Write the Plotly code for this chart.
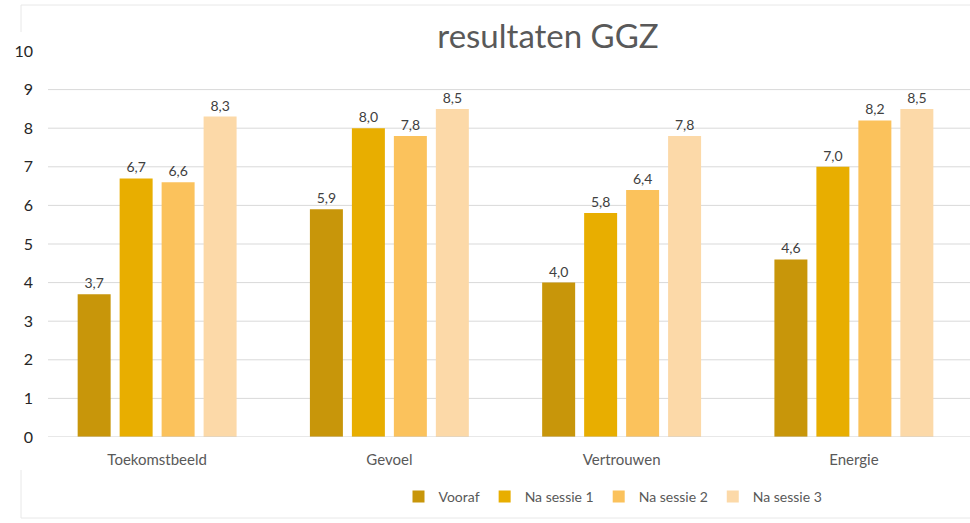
import plotly.graph_objects as go

categories = ["Toekomstbeeld", "Gevoel", "Vertrouwen", "Energie"]
series_names = ["Vooraf", "Na sessie 1", "Na sessie 2", "Na sessie 3"]
vooraf = [3.7, 5.9, 4.0, 4.6]
na_sessie_1 = [6.7, 8.0, 5.8, 7.0]
na_sessie_2 = [6.6, 7.8, 6.4, 8.2]
na_sessie_3 = [8.3, 8.5, 7.8, 8.5]
y_ticks = [0, 1, 2, 3, 4, 5, 6, 7, 8, 9, 10]
grid_values = [1, 2, 3, 4, 5, 6, 7, 8, 9]

colors = ["#C8960A", "#E8AE00", "#FBC25C", "#FCD9A8"]
all_series = [vooraf, na_sessie_1, na_sessie_2, na_sessie_3]

W, H = 970, 523
L, R, T, B = 41, 0, 51, 86
pw = W - L - R
ph = H - T - B

def px_x(px):
    return (px - L) / pw

def px_y(py):
    return (H - B - py) / ph

fig = go.Figure()
for name, vals, col in zip(series_names, all_series, colors):
    fig.add_trace(go.Bar(
        name=name, x=categories, y=vals, marker=dict(color=col, line=dict(width=0)),
        text=[f"{v:.1f}".replace(".", ",") for v in vals],
        textposition="outside", cliponaxis=False,
        textfont=dict(family="Lato, Open Sans, sans-serif", size=14, color="#404040"),
    ))

shapes = []
for g in grid_values:
    shapes.append(dict(type="line", xref="paper", yref="y", x0=px_x(48), x1=1, y0=g, y1=g,
                       line=dict(color="#D9D9D9", width=1), layer="below"))
shapes.append(dict(type="line", xref="paper", yref="y", x0=px_x(48), x1=1, y0=0, y1=0,
                   line=dict(color="#D0D0D0", width=1), layer="above"))
frame = "#E8E8E8"
shapes.append(dict(type="line", xref="paper", yref="paper", x0=px_x(21), x1=1, y0=px_y(5), y1=px_y(5), line=dict(color=frame, width=1)))
shapes.append(dict(type="line", xref="paper", yref="paper", x0=px_x(21), x1=1, y0=px_y(518), y1=px_y(518), line=dict(color=frame, width=1)))
shapes.append(dict(type="line", xref="paper", yref="paper", x0=px_x(21), x1=px_x(21), y0=px_y(5), y1=px_y(32), line=dict(color=frame, width=1)))
shapes.append(dict(type="line", xref="paper", yref="paper", x0=px_x(21), x1=px_x(21), y0=px_y(470), y1=px_y(518), line=dict(color=frame, width=1)))

fig.update_layout(
    width=W, height=H,
    margin=dict(l=L, r=R, t=T, b=B),
    paper_bgcolor="white", plot_bgcolor="white",
    barmode="group", bargap=0.277, bargroupgap=0.214,
    title=dict(text="resultaten GGZ", x=548 / W, xanchor="center", xref="container",
               y=1 - 36 / H, yanchor="middle", yref="container",
               font=dict(family="Lato, Open Sans, sans-serif", size=33, color="#595959")),
    font=dict(family="Lato, Open Sans, sans-serif", color="#404040"),
    xaxis=dict(showgrid=False, showline=False, ticks="", tickfont=dict(size=15, color="#595959"),
               ticklabelstandoff=12),
    yaxis=dict(range=[0, 10], tickvals=y_ticks, showgrid=False, zeroline=False, showline=False,
               ticks="", tickfont=dict(size=16, color="#262626"), ticklabelstandoff=7),
    legend=dict(orientation="h", x=613 / W, xanchor="center", xref="container",
                y=1 - 497 / H, yanchor="middle", yref="container",
                font=dict(size=14, color="#595959"), itemwidth=30, traceorder="normal"),
    shapes=shapes,
)

fig.write_html("out.html", config={"displayModeBar": False},
               post_script="document.body.style.margin='0';")
